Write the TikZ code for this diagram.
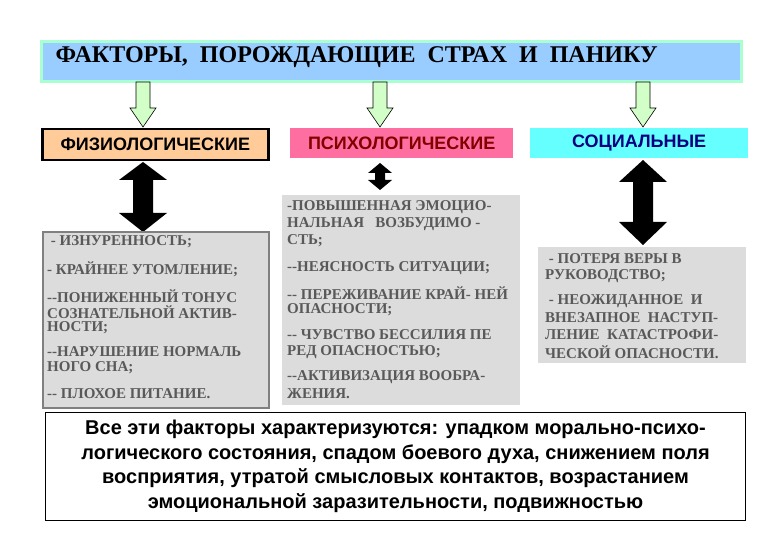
\documentclass[tikz,border=0pt]{standalone}
\usepackage{fontspec}
\setmainfont{Liberation Serif}
\setsansfont{Liberation Sans}
\definecolor{tblue}{RGB}{153,204,255}
\definecolor{tedge}{RGB}{170,255,210}
\definecolor{hgreen}{RGB}{210,255,200}
\definecolor{horange}{RGB}{255,204,153}
\definecolor{hpink}{RGB}{255,110,160}
\definecolor{hcyan}{RGB}{102,255,255}
\definecolor{gfill}{RGB}{220,220,220}
\begin{document}
\begin{tikzpicture}[x=1pt,y=-1pt,
  hol/.style={draw=black,fill=hgreen,line width=0.6pt},
  dbl/.style={fill=black},
  gbox/.style={fill=gfill},
  it/.style={anchor=west,inner sep=0pt,font=\bfseries\fontsize{15}{16}\selectfont,text=black!65},
  hd/.style={font=\sffamily\bfseries\fontsize{18}{20}\selectfont}]
\useasboundingbox (0,0) rectangle (780,540);
% title
\node[draw=tedge,line width=3pt,fill=tblue,minimum width=700,minimum height=40,anchor=north west,inner sep=0pt] (title) at (40,40) {};
\node[anchor=west,font=\bfseries\fontsize{24}{26}\selectfont] (tt) at (52,57) {ФАКТОРЫ,\ \ ПОРОЖДАЮЩИЕ \ СТРАХ \ И \ ПАНИКУ};
% hollow arrows
\foreach \x/\n in {143/a,380/b,643/c}{
 \draw[hol] (\x-7,82) -- (\x+7,82) -- (\x+7,108) -- (\x+13,108) -- (\x,127) -- (\x-13,108) -- (\x-7,108) -- cycle;
}
% heading boxes
\node[hd,draw=black,line width=2.5pt,fill=horange,minimum width=226,minimum height=31,anchor=north west,inner sep=0pt] (h1) at (41,128) {ФИЗИОЛОГИЧЕСКИЕ};
\node[hd,text=red!50!black,fill=hpink,minimum width=223,minimum height=30,anchor=north west,inner sep=0pt] (h2) at (290,128) {ПСИХОЛОГИЧЕСКИЕ};
\node[hd,text=blue!50!black,fill=hcyan,minimum width=218,minimum height=30,anchor=north west,inner sep=0pt] (h3) at (530,128) {СОЦИАЛЬНЫЕ};
% double arrows
\fill[dbl] (143,162) -- (167,180) -- (153,180) -- (153,213) -- (167,213) -- (143,232) -- (119,213) -- (133,213) -- (133,180) -- (119,180) -- cycle;
\fill[dbl] (380,163) -- (392,173) -- (385,173) -- (385,180) -- (392,180) -- (380,190) -- (368,180) -- (375,180) -- (375,173) -- (368,173) -- cycle;
\fill[dbl] (643,160) -- (667,182) -- (653,182) -- (653,222) -- (667,222) -- (643,245) -- (619,222) -- (633,222) -- (633,182) -- (619,182) -- cycle;
% gray boxes
\node[gbox,draw=gray,line width=2pt,minimum width=226,minimum height=176,anchor=north west,inner sep=0pt] (g1) at (42,231) {};
\node[gbox,minimum width=238,minimum height=210,anchor=north west,inner sep=0pt] (g2) at (282,195) {};
\node[gbox,minimum width=208,minimum height=116,anchor=north west,inner sep=0pt] (g3) at (538,247) {};
\foreach \y/\t [count=\i] in {242/{\ - ИЗНУРЕННОСТЬ;},269/{- КРАЙНЕЕ УТОМЛЕНИЕ;},296/{{-}{-}ПОНИЖЕННЫЙ ТОНУС},312/{СОЗНАТЕЛЬНОЙ АКТИВ-},328/{НОСТИ;},352/{{-}{-}НАРУШЕНИЕ НОРМАЛЬ},368/{НОГО СНА;},394/{{-}{-} ПЛОХОЕ ПИТАНИЕ.}}
  \node[it] (l\i) at (47,\y) {\t};
\foreach \y/\t [count=\i] in {207/{-ПОВЫШЕННАЯ ЭМОЦИО-},224/{НАЛЬНАЯ \ \ ВОЗБУДИМО -},241/{СТЬ;},268/{{-}{-}НЕЯСНОСТЬ СИТУАЦИИ;},293/{{-}{-} ПЕРЕЖИВАНИЕ КРАЙ- НЕЙ},310/{ОПАСНОСТИ;},335/{{-}{-} ЧУВСТВО БЕССИЛИЯ ПЕ},352/{РЕД ОПАСНОСТЬЮ;},377/{{-}{-}АКТИВИЗАЦИЯ ВООБРА-},394/{ЖЕНИЯ.}}
  \node[it] (m\i) at (287,\y) {\t};
\foreach \y/\t [count=\i] in {259/{\ - ПОТЕРЯ ВЕРЫ В},276/{РУКОВОДСТВО;},301/{\ - НЕОЖИДАННОЕ \ И},318/{ВНЕЗАПНОЕ \ НАСТУП-},335/{ЛЕНИЕ \ КАТАСТРОФИ-},352/{ЧЕСКОЙ ОПАСНОСТИ.}}
  \node[it] (r\i) at (545,\y) {\t};
% bottom
\node[draw=black,line width=1pt,fill=white,minimum width=700,minimum height=108,anchor=north west,inner sep=0pt] (bot) at (45,412) {};
\node[font=\sffamily\bfseries\fontsize{20}{24.5}\selectfont,align=center] (bt) at (bot.center) {Все эти факторы характеризуются: упадком морально-психо-\\логического состояния, спадом боевого духа, снижением поля\\восприятия, утратой смысловых контактов, возрастанием\\эмоциональной заразительности, подвижностью};
\end{tikzpicture}
\end{document}
